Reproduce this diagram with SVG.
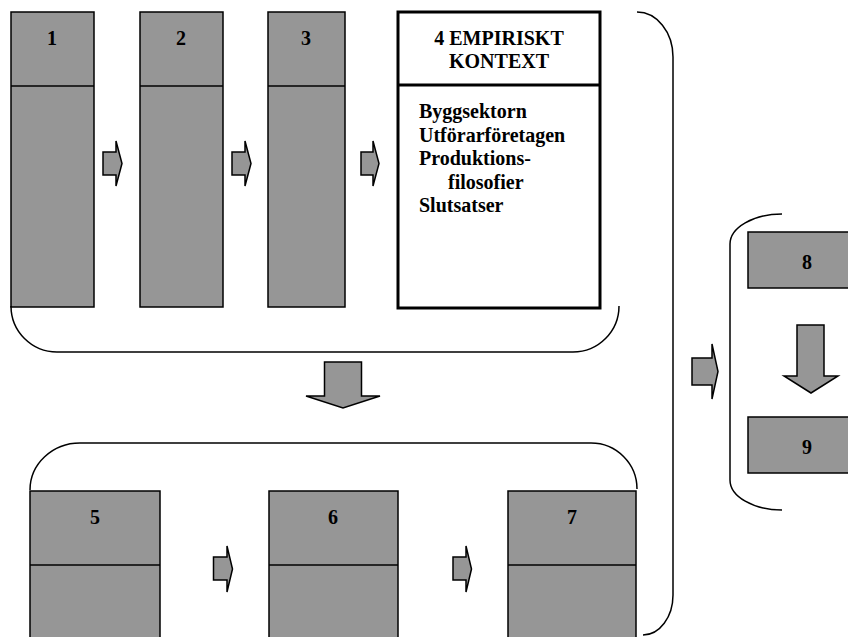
<svg xmlns="http://www.w3.org/2000/svg" width="848" height="637" viewBox="0 0 848 637">
  <style>
    .box { fill: #969696; stroke: #000; stroke-width: 1.5; }
    .div { stroke: #000; stroke-width: 1.5; fill: none; }
    .ctx { fill: #fff; stroke: #000; stroke-width: 3; }
    .ctxdiv { stroke: #000; stroke-width: 3; fill: none; }
    .arrow { fill: #969696; stroke: #000; stroke-width: 1.5; stroke-linejoin: miter; }
    .brace { fill: none; stroke: #000; stroke-width: 1.5; }
    text { font-family: "Liberation Serif", "Times New Roman", serif; font-weight: bold; font-size: 20px; fill: #000; }
    .c { text-anchor: middle; }
  </style>
  <rect width="848" height="637" fill="#fff"/>

  <!-- group 1: chapters 1-4 -->
  <g id="node-1">
    <rect class="box" x="11" y="12" width="83" height="295"/>
    <line class="div" x1="11" y1="86" x2="94" y2="86"/>
    <text class="c" x="52" y="45">1</text>
  </g>
  <g id="node-2">
    <rect class="box" x="140" y="12" width="83" height="295"/>
    <line class="div" x1="140" y1="86" x2="223" y2="86"/>
    <text class="c" x="181" y="45">2</text>
  </g>
  <g id="node-3">
    <rect class="box" x="268" y="12" width="77" height="295"/>
    <line class="div" x1="268" y1="86" x2="345" y2="86"/>
    <text class="c" x="306" y="45">3</text>
  </g>
  <g id="node-4">
    <rect class="ctx" x="398" y="12" width="202" height="296"/>
    <line class="ctxdiv" x1="398" y1="85" x2="600" y2="85"/>
    <text class="c" x="499" y="45">4 EMPIRISKT</text>
    <text class="c" x="499" y="68">KONTEXT</text>
    <text x="419" y="118">Byggsektorn</text>
    <text x="419" y="141.5">Utförarföretagen</text>
    <text x="419" y="165">Produktions-</text>
    <text x="448" y="188.5">filosofier</text>
    <text x="419" y="212">Slutsatser</text>
  </g>

  <!-- group 2: chapters 5-7 -->
  <g id="node-5">
    <rect class="box" x="30" y="491" width="130" height="160"/>
    <line class="div" x1="30" y1="565" x2="160" y2="565"/>
    <text class="c" x="95" y="524">5</text>
  </g>
  <g id="node-6">
    <rect class="box" x="269" y="491" width="129" height="160"/>
    <line class="div" x1="269" y1="565" x2="398" y2="565"/>
    <text class="c" x="333" y="524">6</text>
  </g>
  <g id="node-7">
    <rect class="box" x="508" y="491" width="128" height="160"/>
    <line class="div" x1="508" y1="565" x2="636" y2="565"/>
    <text class="c" x="572" y="524">7</text>
  </g>

  <!-- group 3: chapters 8-9 -->
  <g id="node-8">
    <rect class="box" x="748" y="232" width="120" height="56"/>
    <text class="c" x="807" y="269">8</text>
  </g>
  <g id="node-9">
    <rect class="box" x="748" y="417" width="120" height="56"/>
    <text class="c" x="807" y="454">9</text>
  </g>

  <!-- brackets and arrows -->
  <g id="connectors">
    <path class="brace" d="M11,306 A46,46 0 0 0 57,352 H573 A46,46 0 0 0 619,306"/>
    <path class="brace" d="M30,490 A50,47 0 0 1 80,443 H591 A46,46 0 0 1 637,489"/>
    <path class="brace" d="M637,12 A36,45 0 0 1 673,57 V595 A30,40 0 0 1 643,635"/>
    <path class="brace" d="M782,214 A52,30 0 0 0 730,244 V480 A52,30 0 0 0 782,510"/>

    <polygon class="arrow" points="103,152 116,152 116,141 122,163.5 116,186 116,175 103,175"/>
    <polygon class="arrow" points="232,152 245,152 245,141 251,163.5 245,186 245,175 232,175"/>
    <polygon class="arrow" points="361,152 373,152 373,141 379,163.5 373,186 373,175 361,175"/>

    <polygon class="arrow" points="213.5,557 227,557 227,546 232.5,569 227,592 227,580 213.5,580"/>
    <polygon class="arrow" points="453,557 466,557 466,546 471.5,569 466,592 466,580 453,580"/>

    <polygon class="arrow" points="692,358 712,358 712,344 718,371.5 712,399 712,385 692,385"/>

    <polygon class="arrow" points="324.5,362 361.5,362 361.5,396 380,396 343,408 306,396 324.5,396"/>
    <polygon class="arrow" points="797,325 824,325 824,376 838,376 811,393 784,376 797,376"/>
  </g>
</svg>
